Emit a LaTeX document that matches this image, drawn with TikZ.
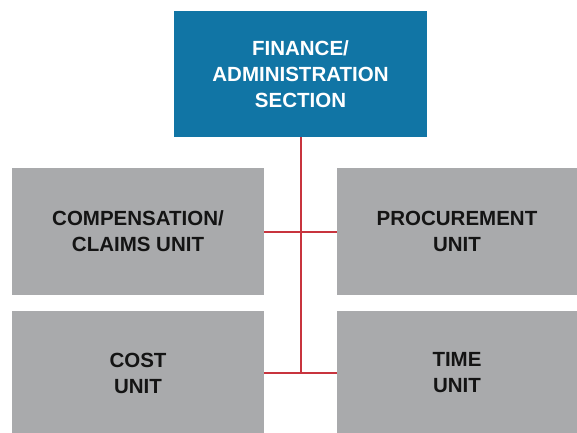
\documentclass[tikz,border=0pt]{standalone}
\usepackage{fontspec}
\setmainfont{Liberation Sans}
\begin{document}
\begin{tikzpicture}[x=1pt,y=-1pt,
  box/.style={rectangle, inner sep=0pt, align=center, font=\fontsize{20.5}{26}\selectfont\bfseries},
  headbox/.style={box, fill=headblue, text=white, minimum width=253pt, minimum height=126pt},
  unitbox/.style={box, fill=unitgray, text=unittext},
  link/.style={draw=linkred, line width=2pt}]
\definecolor{headblue}{RGB}{17,117,165}
\definecolor{unitgray}{RGB}{169,170,172}
\definecolor{unittext}{RGB}{20,20,20}
\definecolor{linkred}{RGB}{200,52,62}
\useasboundingbox (0,0) rectangle (577,432);
\node[headbox] (fin) at (300.5,74) {FINANCE/\\ADMINISTRATION\\SECTION};
\node[unitbox, minimum width=252pt, minimum height=127pt] (comp) at (138,231.5) {COMPENSATION/\\CLAIMS UNIT};
\node[unitbox, minimum width=240pt, minimum height=127pt] (proc) at (457,231.5) {PROCUREMENT\\UNIT};
\node[unitbox, minimum width=252pt, minimum height=124pt] (cost) at (138,373) {COST\\UNIT};
\node[unitbox, minimum width=240pt, minimum height=124pt] (time) at (457,373) {TIME\\UNIT};
\draw[link] (fin.south) -- (fin.south |- cost.east);
\draw[link] (comp.east) -- (proc.west);
\draw[link] (cost.east) -- (time.west);
\end{tikzpicture}
\end{document}
